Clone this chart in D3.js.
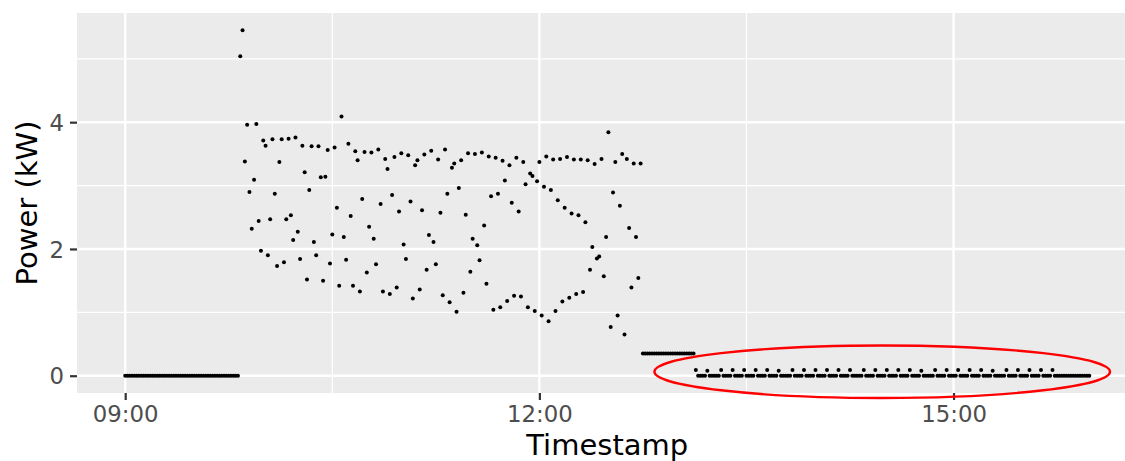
<!DOCTYPE html>
<html>
<head>
<meta charset="utf-8">
<script src="https://cdn.jsdelivr.net/npm/d3@7"></script>
<style>
  html, body { margin: 0; padding: 0; background: #ffffff; }
  svg { display: block; }
</style>
</head>
<body>
<svg id="chart" width="1125" height="461"></svg>
<script>
// ---------------- DATA ----------------
// One reading per minute, starting at 09:00.
const startTime = "09:00";
const stepMinutes = 1;

// 09:00 - 09:49 : idle
const idleMorning = [
  0,0,0,0,0,0,0,0,0,0,
  0,0,0,0,0,0,0,0,0,0,
  0,0,0,0,0,0,0,0,0,0,
  0,0,0,0,0,0,0,0,0,0,
  0,0,0,0,0,0,0,0,0,0
];

// 09:50 - 12:44 : active charging
const active = [
  5.04,5.45,3.38,3.96,2.90,2.32,3.09,3.97,2.44,1.97,
  3.71,3.63,1.90,2.47,3.73,2.87,1.73,3.37,3.73,1.79,
  2.47,3.74,2.53,2.14,3.76,2.27,1.84,3.63,3.21,1.52,
  2.93,3.62,2.11,1.90,3.62,3.13,1.50,3.14,3.56,1.77,
  2.23,3.60,2.65,1.42,4.09,2.19,1.83,3.66,2.52,1.42,
  3.54,3.40,1.33,2.79,3.53,1.63,
  2.35,3.52,2.16,1.76,3.57,2.71,1.33,3.42,3.26,1.29,
  2.85,3.45,1.39,2.59,3.51,2.07,1.84,3.48,2.75,1.22,
  3.32,3.40,1.36,2.61,3.49,1.67,2.22,3.55,2.11,1.76,
  3.41,2.57,1.27,3.57,2.87,1.16,3.28,3.35,1.01,2.96,
  3.40,1.31,2.54,3.51,1.64,2.16,3.50,2.06,1.82,3.52,
  2.37,1.45,3.46,2.83,1.04,3.44,2.87,1.08,
  3.39,3.08,1.18,3.32,2.73,1.26,3.44,2.59,1.25,3.37,
  3.02,1.08,3.19,3.15,1.02,3.07,3.37,0.95,2.98,3.46,
  0.86,2.93,3.41,1.02,2.77,3.42,1.17,2.65,3.45,1.23,
  2.56,3.41,1.29,2.53,3.41,1.32,2.42,3.40,1.67,2.03,
  3.34,1.85,1.88,3.42,1.57,2.19,3.84,0.77,2.89,3.37,
  0.95,2.68,3.50,0.65,3.42,2.33,1.39,3.35,2.19,1.54,
  3.35
];

// 12:45 - 13:07 : standby
const standby = [
  0.35,0.35,0.35,0.35,0.35,0.35,0.35,0.35,0.35,0.35,
  0.35,0.35,0.35,0.35,0.35,0.35,0.35,0.35,0.35,0.35,
  0.35,0.35,0.35
];

// 13:08 - 15:59 : idle with small periodic blips
const idleAfternoon = [
  0.09,0,0,0,0,0.08,0,0,0,0,
  0,0.09,0,0,0,0,0.09,0,0,0,
  0,0.09,0,0,0,0,0.09,0,0,0,
  0,0.09,0,0,0,0,0.08,0,0,0,
  0,0,0.09,0,0,0,0,0.09,0,0,
  0,0,0.09,0,0,0,0,0.09,0,0,
  0,0,0.09,0,0,0,0,0.09,0,0,
  0,0,0,0.09,0,0,0,0,0.09,0,
  0,0,0,0.09,0,0,0,0,0.09,0,
  0,0,0,0.09,0,0,0,0,0.08,0,
  0,0,0,0,0.09,0,0,0,0,0.09,
  0,0,0,0,0.09,0,0,0,0,0.09,
  0,0,0,0,0.09,0,0,0,0,0.08,
  0,0,0,0,0,0.09,0,0,0,0,
  0.09,0,0,0,0,0.09,0,0,0,0,
  0.09,0,0,0,0,0.09,0,0,0,0,
  0,0,0,0,0,0,0,0,0,0,
  0,0
];

const xTickLabels = ["09:00", "12:00", "15:00"];
const xMinorTicks = ["07:30", "10:30", "13:30", "16:30"];
const yTicks = [0, 2, 4];
const yMinorTicks = [1, 3, 5];

// highlight ellipse (data units)
const highlightCenterTime = "14:29";
const highlightHalfWidthMinutes = 99;
const highlightCenterValue = 0.063;
const highlightHalfHeightValue = 0.414;

// ---------------- BUILD ----------------
const parseHM = d3.timeParse("%H:%M");
const t0 = parseHM(startTime);
const allValues = idleMorning.concat(active, standby, idleAfternoon);
const data = allValues.map((v, i) => ({
  t: d3.timeMinute.offset(t0, i * stepMinutes),
  v: v
}));

const W = 1125, H = 461;
const panel = { left: 77, top: 13, bottom: 393, right: 1137.5 };

const tExt = d3.extent(data, d => d.t);
const spanMs = tExt[1] - tExt[0];
const x = d3.scaleTime()
  .domain([new Date(+tExt[0] - 0.05 * spanMs), new Date(+tExt[1] + 0.05 * spanMs)])
  .range([panel.left, panel.right]);

const vMax = d3.max(data, d => d.v), vMin = 0;
const vSpan = vMax - vMin;
const y = d3.scaleLinear()
  .domain([vMin - 0.05 * vSpan, vMax + 0.05 * vSpan])
  .range([panel.bottom, panel.top]);

const svg = d3.select("#chart");
svg.append("rect").attr("width", W).attr("height", H).attr("fill", "#ffffff");

const defs = svg.append("defs");
defs.append("clipPath").attr("id", "panelClip")
  .append("rect")
  .attr("x", panel.left).attr("y", panel.top)
  .attr("width", panel.right - panel.left).attr("height", panel.bottom - panel.top);

// panel background
svg.append("rect")
  .attr("x", panel.left).attr("y", panel.top)
  .attr("width", panel.right - panel.left)
  .attr("height", panel.bottom - panel.top)
  .attr("fill", "#EBEBEB");

const grid = svg.append("g").attr("clip-path", "url(#panelClip)");

// minor gridlines
grid.selectAll("line.ymin").data(yMinorTicks).join("line")
  .attr("x1", panel.left).attr("x2", panel.right)
  .attr("y1", d => y(d)).attr("y2", d => y(d))
  .attr("stroke", "#ffffff").attr("stroke-width", 1.2);
grid.selectAll("line.xmin").data(xMinorTicks.map(parseHM)).join("line")
  .attr("y1", panel.top).attr("y2", panel.bottom)
  .attr("x1", d => x(d)).attr("x2", d => x(d))
  .attr("stroke", "#ffffff").attr("stroke-width", 1.2);

// major gridlines
grid.selectAll("line.ymaj").data(yTicks).join("line")
  .attr("x1", panel.left).attr("x2", panel.right)
  .attr("y1", d => y(d)).attr("y2", d => y(d))
  .attr("stroke", "#ffffff").attr("stroke-width", 2.4);
grid.selectAll("line.xmaj").data(xTickLabels.map(parseHM)).join("line")
  .attr("y1", panel.top).attr("y2", panel.bottom)
  .attr("x1", d => x(d)).attr("x2", d => x(d))
  .attr("stroke", "#ffffff").attr("stroke-width", 2.4);

// points
svg.append("g").selectAll("circle").data(data).join("circle")
  .attr("cx", d => x(d.t))
  .attr("cy", d => y(d.v))
  .attr("r", 2.0)
  .attr("fill", "#000000");

// axes
const fmt = d3.timeFormat("%H:%M");
const xAxis = d3.axisBottom(x)
  .tickValues(xTickLabels.map(parseHM))
  .tickFormat(fmt)
  .tickSize(7).tickPadding(5);
const gx = svg.append("g").attr("transform", `translate(0,${panel.bottom})`).call(xAxis);
gx.select(".domain").remove();
gx.selectAll(".tick line").attr("stroke", "#333333").attr("stroke-width", 2.2);
gx.selectAll(".tick text")
  .attr("fill", "#4D4D4D")
  .style("font-family", "'DejaVu Sans', sans-serif")
  .style("font-size", "22.8px")
  .attr("dy", "0.73em");

const yAxis = d3.axisLeft(y).tickValues(yTicks).tickFormat(d3.format("d"))
  .tickSize(7).tickPadding(6);
const gy = svg.append("g").attr("transform", `translate(${panel.left},0)`).call(yAxis);
gy.select(".domain").remove();
gy.selectAll(".tick line").attr("stroke", "#333333").attr("stroke-width", 2.2);
gy.selectAll(".tick text")
  .attr("fill", "#4D4D4D")
  .style("font-family", "'DejaVu Sans', sans-serif")
  .style("font-size", "22.8px")
  .attr("dy", "0.36em");

// axis titles
svg.append("text")
  .attr("x", (panel.left + panel.right) / 2)
  .attr("y", 454.5)
  .attr("text-anchor", "middle")
  .style("font-family", "'DejaVu Sans', sans-serif")
  .style("font-size", "29px")
  .attr("fill", "#000000")
  .text("Timestamp");

svg.append("text")
  .attr("transform", `translate(37,${(panel.top + panel.bottom) / 2}) rotate(-90)`)
  .attr("text-anchor", "middle")
  .style("font-family", "'DejaVu Sans', sans-serif")
  .style("font-size", "29px")
  .attr("fill", "#000000")
  .text("Power (kW)");

// highlight ellipse
const hc = parseHM(highlightCenterTime);
const hcx = x(hc);
const hrx = x(d3.timeMinute.offset(hc, highlightHalfWidthMinutes)) - hcx;
const hcy = y(highlightCenterValue);
const hry = y(highlightCenterValue - highlightHalfHeightValue) - hcy;
svg.append("ellipse")
  .attr("cx", hcx).attr("cy", hcy)
  .attr("rx", hrx).attr("ry", hry)
  .attr("fill", "none")
  .attr("stroke", "#FF0000")
  .attr("stroke-width", 2.4);
</script>
</body>
</html>
